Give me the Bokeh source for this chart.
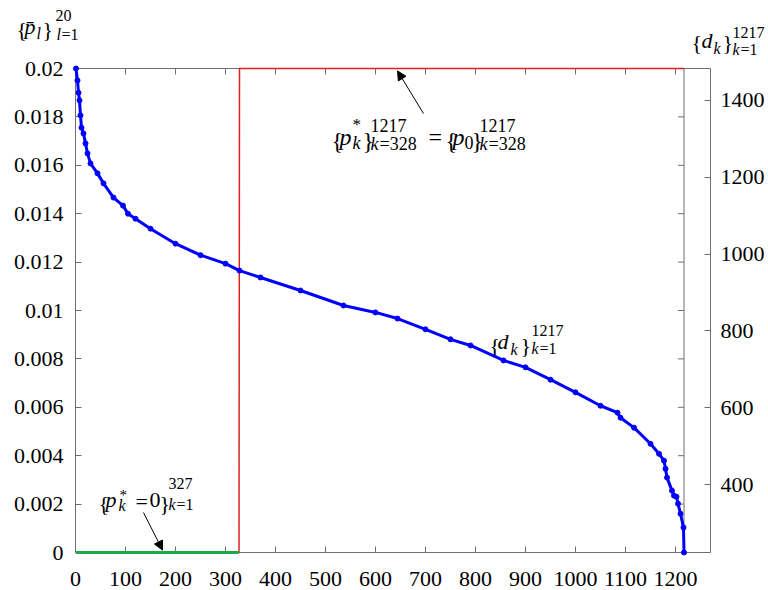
from bokeh.plotting import figure
from bokeh.models import (Range1d, LinearAxis, FixedTicker, CustomJSTickFormatter,
                          Label, Arrow, NormalHead)
from bokeh.embed import file_html
from bokeh.resources import INLINE

# ---------------- data ----------------
k_idx = [1, 4, 6, 8, 10, 12, 16, 20, 24, 30, 44, 56, 76, 95, 105, 120, 150, 200, 250,
         300, 328, 370, 450, 536, 600, 644, 700, 750, 790, 856, 900, 950, 1000, 1050,
         1084, 1090, 1117, 1150, 1167, 1177, 1180, 1183, 1193, 1197, 1202, 1205, 1210,
         1216, 1217]
d_vals = [1483, 1452, 1420, 1400, 1361, 1329, 1314, 1288, 1262, 1236, 1210, 1184, 1147,
          1126, 1105, 1092, 1066, 1027, 997, 975, 957, 939, 905, 866, 848, 832, 804, 778,
          762, 723, 705, 673, 640, 605, 587, 574, 548, 506, 480, 462, 441, 418, 384, 371,
          368, 350, 324, 288, 223]
N = 1217
k_zero_last = 327
k_first = 328
p0 = 0.02

left_ticks = [0, 0.002, 0.004, 0.006, 0.008, 0.01, 0.012, 0.014, 0.016, 0.018, 0.02]
bottom_ticks = [0, 100, 200, 300, 400, 500, 600, 700, 800, 900, 1000, 1100, 1200]
right_ticks = [400, 600, 800, 1000, 1200, 1400]
x_lim = (0, 1270)
y_lim = (0, 0.02)
d_lim = (223, 1483)

# ---------------- layout (pixels) ----------------
W, H = 768, 590
FL, FR, FT, FB = 75, 710, 68, 552   # box edges
TICK = 6
LABEL_SHIFT = 5

xs = (x_lim[1] - x_lim[0]) / (FR - FL)
ys = (y_lim[1] - y_lim[0]) / (FB - FT)
ds = (d_lim[1] - d_lim[0]) / (FB - FT)

FONT = "Liberation Serif"
AX = "#6e6e6e"

p = figure(width=W, height=H,
           x_range=Range1d(x_lim[0] - FL * xs, x_lim[1] + (W - FR) * xs),
           y_range=Range1d(y_lim[0] - (H - FB) * ys, y_lim[1] + FT * ys),
           output_backend="svg", toolbar_location=None,
           min_border=0, min_border_left=0, min_border_right=0,
           min_border_top=0, min_border_bottom=0)
p.xgrid.visible = False
p.ygrid.visible = False
p.outline_line_color = None
p.background_fill_color = "white"
p.border_fill_color = "white"
p.extra_y_ranges = {"d": Range1d(d_lim[0] - (H - FB) * ds, d_lim[1] + FT * ds)}


def style(ax, standoff):
    ax.axis_line_color = AX
    ax.major_tick_line_color = AX
    ax.major_tick_in = TICK
    ax.major_tick_out = 0
    ax.minor_tick_line_color = None
    ax.major_label_text_font = FONT
    ax.major_label_text_font_size = "22px"
    ax.major_label_text_color = "black"
    ax.major_label_standoff = standoff


xa = p.xaxis[0]
xa.ticker = FixedTicker(ticks=bottom_ticks)
xa.fixed_location = y_lim[0]
xa.bounds = x_lim
style(xa, 19)

ya = p.yaxis[0]
ya.ticker = FixedTicker(ticks=left_ticks)
ya.formatter = CustomJSTickFormatter(code="return String(+tick.toPrecision(6));")
ya.fixed_location = x_lim[0]
ya.bounds = y_lim
style(ya, 12)

ra = LinearAxis(y_range_name="d", ticker=FixedTicker(ticks=right_ticks),
                fixed_location=x_lim[1], bounds=d_lim)
style(ra, 10)
p.add_layout(ra, "right")

# top edge of the box with inward ticks
p.line(list(x_lim), [y_lim[1], y_lim[1]], line_color=AX, line_width=1)
p.segment(x0=bottom_ticks, y0=[y_lim[1]] * len(bottom_ticks), x1=bottom_ticks,
          y1=[y_lim[1] - TICK * ys] * len(bottom_ticks), line_color=AX, line_width=1)

# inner right edge of the first axes and its mirrored ticks
p.line([N, N], list(y_lim), line_color=AX, line_width=1)
p.segment(x0=[N] * len(left_ticks), y0=left_ticks, x1=[N - TICK * xs] * len(left_ticks),
          y1=left_ticks, line_color=AX, line_width=1)

# p* series
red = p.line([1, k_zero_last, k_first, N], [0, 0, p0, p0], line_color="#e02020",
             line_width=1.5)
red.level = "overlay"
green = p.line([1, k_zero_last], [0, 0], line_color="#1aaa4a", line_width=3)
green.level = "overlay"

# d_k series
bl = p.line(k_idx, d_vals, y_range_name="d", line_color="blue", line_width=3)
bl.level = "overlay"
bs = p.scatter(k_idx, d_vals, y_range_name="d", size=5, color="blue")
bs.level = "overlay"


# ---------------- annotations ----------------
def put(txt, ix, iy, size=22, italic=False):
    p.add_layout(Label(x=ix, y=H - iy + LABEL_SHIFT, x_units="screen", y_units="screen",
                       text=txt, text_font=FONT, text_font_size=f"{size}px",
                       text_font_style="italic" if italic else "normal",
                       text_color="black", text_baseline="alphabetic",
                       text_align="left"))


# left axis title {p̄_l}^20_{l=1}
put("{", 16, 34)
put("p\u0304", 24, 31, italic=True)
put("l", 36, 38, 16, True)
put("}", 42, 34)
put("20", 55, 20, 16)
put("l", 56, 39, 16, True)
put("=1", 61, 39, 16)

# right axis title {d_k}^1217_{k=1}
put("{", 691, 47)
put("d", 701, 45, italic=True)
put("k", 713, 53, 16, True)
put("}", 722, 47)
put("1217", 732, 37, 16)
put("k", 732, 54, 16, True)
put("=1", 740, 54, 16)

# {p*_k}^1217_{k=328} = {p_0}^1217_{k=328}
put("{", 331, 145, 24)
put("p", 339, 141, 24, True)
put("*", 352, 129, 17)
put("k", 352, 147, 18, True)
put("}", 362, 145, 24)
put("1217", 370, 130, 18)
put("k", 370, 148, 18, True)
put("=328", 379, 148, 18)
put("=", 428, 141, 24)
put("{", 445, 145, 24)
put("p", 452, 141, 24, True)
put("0", 464, 147, 18)
put("}", 471, 145, 24)
put("1217", 479, 130, 18)
put("k", 479, 148, 18, True)
put("=328", 488, 148, 18)

# {p*_k = 0}^327_{k=1}
put("{", 98, 508)
put("p", 105, 504, italic=True)
put("*", 119, 499, 15)
put("k", 118, 510, 16, True)
put("=", 135, 506)
put("0", 149, 504)
put("}", 159, 508)
put("327", 168, 488, 16)
put("k", 168, 509, 16, True)
put("=1", 176, 509, 16)

# {d_k}^1217_{k=1} near the curve
put("{", 489, 350)
put("d", 497, 346, italic=True)
put("k", 510, 354, 16, True)
put("}", 520, 350)
put("1217", 531, 335, 16)
put("k", 531, 353, 16, True)
put("=1", 539, 353, 16)

# arrows
p.add_layout(Arrow(end=NormalHead(size=9, fill_color="black", line_color="black", line_width=1),
                   x_start=696, y_start=0.01814, x_end=644, y_end=0.0199,
                   line_color="black", line_width=1))
p.add_layout(Arrow(end=NormalHead(size=9, fill_color="black", line_color="black", line_width=1),
                   x_start=136, y_start=0.00165, x_end=174, y_end=0.0001,
                   line_color="black", line_width=1))

open("out.html", "w").write(file_html(p, INLINE))
